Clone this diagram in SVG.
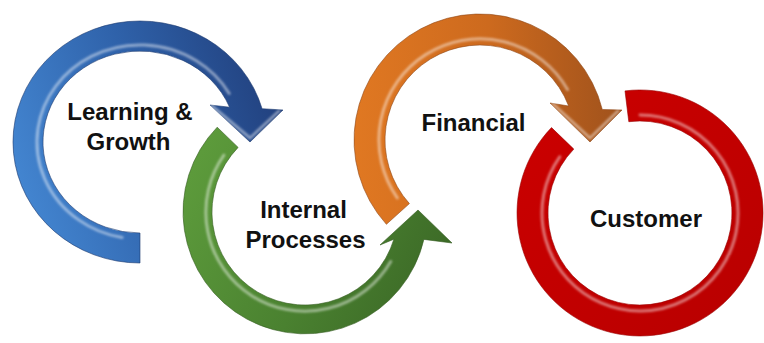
<svg xmlns="http://www.w3.org/2000/svg" width="764" height="343" viewBox="0 0 764 343">
  <style>
    .lbl { font-family: "Liberation Sans", Arial, sans-serif; font-weight: bold; font-size: 24px; fill: #111; text-anchor: middle; }
    .hl { fill: none; stroke: #ffffff; stroke-width: 3; stroke-opacity: 0.45; stroke-linecap: round; filter: url(#soft); }
    .edge { stroke-width: 1; stroke-opacity: 0.6; }
  </style>
  <defs>
    <filter id="soft" x="-10%" y="-10%" width="120%" height="120%">
      <feGaussianBlur stdDeviation="1.2"/>
    </filter>
    <linearGradient id="gBlue" x1="0" y1="0.6" x2="1" y2="0.3">
      <stop offset="0" stop-color="#4385D0"/>
      <stop offset="0.5" stop-color="#2F62AA"/>
      <stop offset="1" stop-color="#213F7C"/>
    </linearGradient>
    <linearGradient id="gGreen" x1="0" y1="0.3" x2="1" y2="0.7">
      <stop offset="0" stop-color="#5C9A3B"/>
      <stop offset="0.55" stop-color="#4A8130"/>
      <stop offset="1" stop-color="#3B6826"/>
    </linearGradient>
    <linearGradient id="gOrange" x1="0" y1="0.5" x2="1" y2="0.5">
      <stop offset="0" stop-color="#E07822"/>
      <stop offset="0.5" stop-color="#CD6A1E"/>
      <stop offset="1" stop-color="#A0521C"/>
    </linearGradient>
    <linearGradient id="gRed" x1="0" y1="0" x2="1" y2="1">
      <stop offset="0" stop-color="#CC0000"/>
      <stop offset="1" stop-color="#B80000"/>
    </linearGradient>
  </defs>

  <g id="learning-growth">
    <path d="M140,263 A127,121 0 1 1 262.1,108.7 L283,110 L250,142 L210,105 L229.6,107.2 A97,91 0 1 0 140,233 Z" fill="url(#gBlue)" stroke="#1C3A70" class="edge"/>
    <path class="hl" d="M122.1,237.5 A103,97 0 1 1 229.2,93.5"/>
    <path class="hl" d="M212,106 L250,138 L279,111" stroke-width="2"/>
    <text class="lbl" x="130" y="120">Learning &amp;</text>
    <text class="lbl" x="128.5" y="150">Growth</text>
  </g>

  <g id="internal-processes">
    <path d="M217.2,127.2 A122,122 0 1 0 423.9,239.4 L452,243 L418,210 L380,245 L393.9,239.2 A93,93 0 1 1 238.1,147.4 Z" fill="url(#gGreen)" stroke="#355E22" class="edge"/>
    <path class="hl" d="M223.9,155.2 A99,99 0 1 0 390.7,261.5"/>
    <text class="lbl" x="303.5" y="218">Internal</text>
    <text class="lbl" x="305.5" y="248">Processes</text>
  </g>

  <g id="financial">
    <path d="M386.4,224.3 A126,126 0 1 1 602.3,109.5 L622,110 L590,142 L550,103 L568.7,106 A95,95 0 1 0 409.4,203.6 Z" fill="url(#gOrange)" stroke="#8F4817" class="edge"/>
    <path class="hl" d="M397.3,197.9 A101,101 0 1 1 567.5,89.5"/>
    <path class="hl" d="M553,104 L590,138 L618,111" stroke-width="2"/>
    <text class="lbl" x="473.5" y="131">Financial</text>
  </g>

  <g id="customer">
    <path d="M625,90.9 A123,123 0 1 1 551.5,127.6 L573.8,149.1 A92,92 0 1 0 628.8,121.7 Z" fill="url(#gRed)" stroke="#990000" class="edge"/>
    <path class="hl" d="M640,115 A98,98 0 1 1 559.7,156.8"/>
    <text class="lbl" x="646" y="227">Customer</text>
  </g>

  <g id="connectors"/>
</svg>
